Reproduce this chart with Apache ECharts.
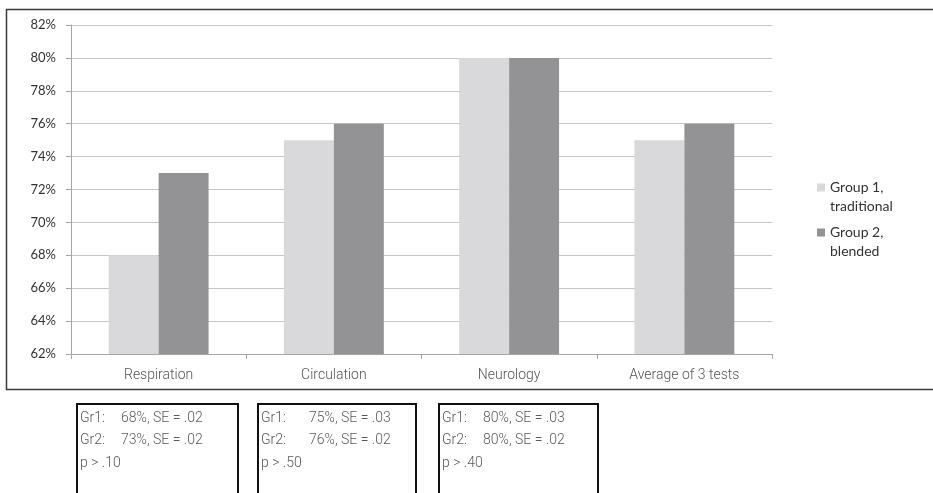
<!DOCTYPE html>
<html>
<head>
<meta charset="utf-8">
<script src="https://cdn.jsdelivr.net/npm/echarts@6/dist/echarts.min.js"></script>
<style>
  html, body { margin: 0; padding: 0; background: #fff; }
  #chart { width: 933px; height: 493px; }
</style>
</head>
<body>
<div id="chart"></div>
<script>
// Test scores (%) per subject for the two teaching groups
const categories = ['Respiration', 'Circulation', 'Neurology', 'Average of 3 tests'];
const seriesNames = ['Group 1, traditional', 'Group 2, blended'];
const legendLabels = ['Group 1,\ntraditional', 'Group 2,\nblended'];
const group1 = [68, 75, 80, 75];
const group2 = [73, 76, 80, 76];

// Statistics summary per test (first three subjects)
const seGroup1 = ['.02', '.03', '.03'];
const seGroup2 = ['.02', '.02', '.02'];
const pValues = ['p > .10', 'p > .50', 'p > .40'];

// Value axis range and step (percent)
const yMin = 62, yMax = 82, yStep = 2;

const colors = ['#d9d9db', '#939396'];
const lightFont = 'Roboto';
const mainFont = 'Lato';

const chart = echarts.init(document.getElementById('chart'), null, { renderer: 'canvas' });

// Summary boxes under the axis
const boxes = [
  { x: 77, w: 161, valueOffset: 44 },
  { x: 258, w: 158, valueOffset: 51 },
  { x: 439, w: 159, valueOffset: 44 }
];
const boxGraphics = [];
const boxText = (x, y, t) => ({
  type: 'text',
  x: x,
  y: y,
  style: {
    text: t,
    fill: '#5a5a5a',
    font: '300 14px ' + lightFont,
    verticalAlign: 'middle',
    align: 'left'
  },
  silent: true
});
boxes.forEach((b, i) => {
  boxGraphics.push({
    type: 'rect',
    shape: { x: b.x, y: 404, width: b.w, height: 110 },
    style: { fill: 'none', stroke: '#111', lineWidth: 2 },
    silent: true
  });
  const rows = [
    ['Gr1:', group1[i] + '%, SE = ' + seGroup1[i]],
    ['Gr2:', group2[i] + '%, SE = ' + seGroup2[i]]
  ];
  rows.forEach((r, j) => {
    const y = 418 + j * 22.5;
    boxGraphics.push(boxText(b.x + 3, y, r[0]));
    boxGraphics.push(boxText(b.x + b.valueOffset, y, r[1]));
  });
  boxGraphics.push(boxText(b.x + 3, 418 + 2 * 22.5, pValues[i]));
});

// Outer frame around the chart area
boxGraphics.unshift({
  type: 'rect',
  shape: { x: 6.5, y: 9.5, width: 940, height: 380 },
  style: { fill: 'none', stroke: '#3a3a3a', lineWidth: 1.5 },
  silent: true
});

const option = {
  animation: false,
  backgroundColor: '#fff',
  color: colors,
  grid: { left: 71, right: 161, top: 25, bottom: 139, containLabel: false },
  legend: {
    orient: 'vertical',
    left: 812,
    top: 154,
    itemWidth: 8,
    itemHeight: 8,
    itemGap: -12,
    icon: 'rect',
    selectedMode: false,
    data: seriesNames,
    // leading blank line keeps the marker beside the first text line
    formatter: name => ' \n' + legendLabels[seriesNames.indexOf(name)],
    textStyle: {
      fontFamily: mainFont,
      fontSize: 14,
      color: '#333',
      lineHeight: 19
    },
    itemStyle: { borderWidth: 0 }
  },
  xAxis: {
    type: 'category',
    data: categories,
    axisLine: { lineStyle: { color: '#a6a6a6', width: 1 } },
    axisTick: { show: true, alignWithLabel: false, length: 5, lineStyle: { color: '#a6a6a6' } },
    axisLabel: {
      fontFamily: lightFont,
      fontWeight: 300,
      fontSize: 14,
      color: '#555',
      margin: 14
    },
    splitLine: { show: false }
  },
  yAxis: {
    type: 'value',
    min: yMin,
    max: yMax,
    interval: yStep,
    axisLine: { show: true, lineStyle: { color: '#a6a6a6', width: 1 } },
    axisTick: { show: true, length: 5, lineStyle: { color: '#a6a6a6' } },
    axisLabel: {
      formatter: '{value}%',
      fontFamily: mainFont,
      fontSize: 13,
      color: '#333',
      margin: 15
    },
    splitLine: { lineStyle: { color: '#c6c6c6', width: 1 } }
  },
  series: [
    {
      name: seriesNames[0],
      type: 'bar',
      data: group1,
      barGap: '0%',
      barCategoryGap: '43%',
      itemStyle: { color: colors[0] }
    },
    {
      name: seriesNames[1],
      type: 'bar',
      data: group2,
      barGap: '0%',
      barCategoryGap: '43%',
      itemStyle: { color: colors[1] }
    }
  ],
  graphic: boxGraphics
};

chart.setOption(option);
</script>
</body>
</html>
